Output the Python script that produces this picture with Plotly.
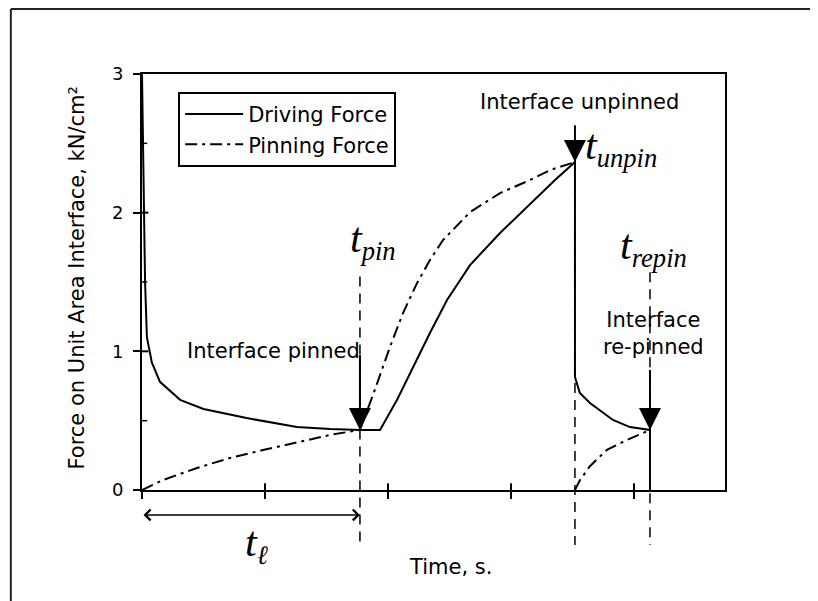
import plotly.graph_objects as go

# ---------------- data ----------------
t_pin = 1.772
t_unpin = 3.52
t_repin = 4.13

drive_t = [0.0, 0.012, 0.025, 0.04, 0.08, 0.146, 0.31, 0.50, 0.85, 1.26, 1.53, t_pin,
           1.935, 2.073, 2.203, 2.341, 2.480, 2.667, 2.911, 3.154, 3.358, t_unpin,
           t_unpin, 3.56, 3.642, 3.829, 3.967, t_repin, t_repin]
drive_f = [3.0, 2.2, 1.5, 1.10, 0.92, 0.78, 0.65, 0.584, 0.519, 0.454, 0.44, 0.433,
           0.433, 0.649, 0.887, 1.132, 1.370, 1.622, 1.853, 2.062, 2.235, 2.365,
           0.815, 0.70, 0.627, 0.505, 0.454, 0.433, 0.0]

pinning_t = [0.0, 0.171, 0.447, 0.715, 0.984, 1.26, 1.528, t_pin, 1.878, 2.016, 2.122,
             2.236, 2.341, 2.447, 2.667, 2.911, 3.154, 3.317, t_unpin,
             None,
             t_unpin, 3.56, 3.64, 3.78, 3.94, t_repin]
pinning_f = [0.0, 0.072, 0.159, 0.231, 0.288, 0.346, 0.397, 0.433, 0.685, 1.031, 1.276,
             1.492, 1.658, 1.802, 2.004, 2.141, 2.235, 2.307, 2.365,
             None,
             0.0, 0.07, 0.17, 0.29, 0.36, 0.433]

# event markers (arrow tips) and where their stems start
event_t = [t_pin, t_unpin, t_repin]
event_f = [0.433, 2.365, 0.433]
stem_top_f = [0.973, 2.63, 0.865]
# top of the dashed reference lines (force units)
ref_top_f = [1.54, 2.365, 1.57]

x_ticks = [0, 1, 2, 3, 4]
y_ticks = [0, 1, 2, 3]
y_minor = [0.5, 1.5, 2.5]
x_max = 4.74
y_max = 3.0

FONT = "DejaVu Sans"
SERIF = "Liberation Serif"

fig = go.Figure()
fig.add_trace(go.Scatter(x=drive_t, y=drive_f, mode="lines", name="Driving Force",
                         line=dict(color="black", width=2)))
fig.add_trace(go.Scatter(x=pinning_t, y=pinning_f, mode="lines", name="Pinning Force",
                         line=dict(color="black", width=2, dash="12px,5px,3px,5px"),
                         connectgaps=False))

shapes = []
# dashed reference lines, extending below the axis
for t, ftop in zip(event_t, ref_top_f):
    shapes.append(dict(type="line", xref="x", yref="paper", x0=t, x1=t,
                       y0=ftop / y_max, y1=-0.132,
                       line=dict(color="black", width=1.5, dash="10px,7px")))
# solid arrow stems
for t, f0, f1 in zip(event_t, stem_top_f, event_f):
    shapes.append(dict(type="line", xref="x", yref="y", x0=t, x1=t, y0=f0, y1=f1,
                       line=dict(color="black", width=2)))
# inside halves of crossing ticks
for v in x_ticks[1:]:
    shapes.append(dict(type="line", xref="x", yref="paper", x0=v, x1=v, y0=0, y1=0.016,
                       line=dict(color="black", width=2)))
for v in y_ticks[1:3]:
    shapes.append(dict(type="line", xref="paper", yref="y", x0=0, x1=0.011, y0=v, y1=v,
                       line=dict(color="black", width=2)))
for v in y_minor:
    shapes.append(dict(type="line", xref="paper", yref="y", x0=0, x1=0.009, y0=v, y1=v,
                       line=dict(color="black", width=1.5)))
# outer frame (top and left edge of the image border)
shapes.append(dict(type="line", xref="paper", yref="paper", x0=-0.225, x1=1.2,
                   y0=1.1562, y1=1.1562, line=dict(color="#222", width=2)))
shapes.append(dict(type="line", xref="paper", yref="paper", x0=-0.225, x1=-0.225,
                   y0=1.1562, y1=-0.3, line=dict(color="#222", width=2)))

fig.add_trace(go.Scatter(x=event_t, y=event_f, mode="markers", showlegend=False,
                         marker=dict(symbol="arrow-down", size=22, color="black",
                                     line=dict(width=0))))

ann = []
txt = dict(family=FONT, size=21, color="black")
ann.append(dict(text="Interface pinned", x=t_pin, y=1.0, xref="x", yref="y",
                xanchor="right", yanchor="middle", showarrow=False, font=txt, xshift=2))
ann.append(dict(text="Interface unpinned", x=t_unpin, y=2.8, xref="x", yref="y",
                xanchor="center", yanchor="middle", showarrow=False, font=txt, xshift=5))
ann.append(dict(text="Interface<br>re-pinned", x=t_repin, y=1.13, xref="x", yref="y",
                xanchor="center", yanchor="middle", showarrow=False, font=txt, xshift=4))

tfont = dict(family=SERIF, size=38, color="black")


def tlabel(sub):
    return ('<span style="font-size:42px"><i>t</i></span>'
            '<sub><i>' + sub + '</i></sub>')


ann.append(dict(text=tlabel("pin"), x=t_pin, y=1.80, xref="x", yref="y",
                xanchor="left", yanchor="middle", showarrow=False, font=tfont, xshift=-12))
ann.append(dict(text=tlabel("unpin"), x=t_unpin, y=2.47, xref="x", yref="y",
                xanchor="left", yanchor="middle", showarrow=False, font=tfont, xshift=8))
ann.append(dict(text=tlabel("repin"), x=t_repin, y=1.75, xref="x", yref="y",
                xanchor="left", yanchor="middle", showarrow=False, font=tfont, xshift=-32))
ann.append(dict(text=tlabel("ℓ"), x=t_pin / 2, y=-0.13, xref="x", yref="paper",
                xanchor="center", yanchor="middle", showarrow=False, font=tfont, xshift=6))

# double-headed arrow for t_l
ann.append(dict(text="", x=t_pin, y=-0.06, xref="x", yref="paper",
                ax=0.0, ay=0, axref="x", ayref="pixel",
                showarrow=True, arrowside="end+start", arrowhead=4, startarrowhead=4,
                arrowsize=1.4, startarrowsize=1.4, arrowwidth=1.5, arrowcolor="black"))

# axis titles
ann.append(dict(text="Time, s.", x=0.53, y=-0.185, xref="paper", yref="paper",
                xanchor="center", yanchor="middle", showarrow=False, font=txt))
ann.append(dict(text="Force on Unit Area Interface, kN/cm²", x=-0.112, y=0.51,
                xref="paper", yref="paper", xanchor="center", yanchor="middle",
                textangle=-90, showarrow=False, font=txt))

fig.update_layout(
    width=810, height=593, autosize=False,
    margin=dict(l=134, r=93, t=66, b=111),
    paper_bgcolor="white", plot_bgcolor="white",
    font=dict(family=FONT, size=21, color="black"),
    shapes=shapes, annotations=ann,
    legend=dict(x=0.062, y=0.957, xanchor="left", yanchor="top",
                bgcolor="white", bordercolor="black", borderwidth=2,
                font=dict(family=FONT, size=21, color="black"),
                itemwidth=58, tracegroupgap=0),
    xaxis=dict(range=[0, x_max], showgrid=False, zeroline=False, showline=True,
               linecolor="black", linewidth=2, mirror=True,
               tickvals=x_ticks, ticks="outside", ticklen=7, tickwidth=2,
               tickcolor="black", showticklabels=False),
    yaxis=dict(range=[0, y_max], showgrid=False, zeroline=False, showline=True,
               linecolor="black", linewidth=2, mirror=True,
               tickvals=y_ticks, ticks="outside", ticklen=7, tickwidth=2,
               tickcolor="black", ticklabelstandoff=6,
               tickfont=dict(family=FONT, size=18, color="black")),
)

fig.write_html("out.html")
